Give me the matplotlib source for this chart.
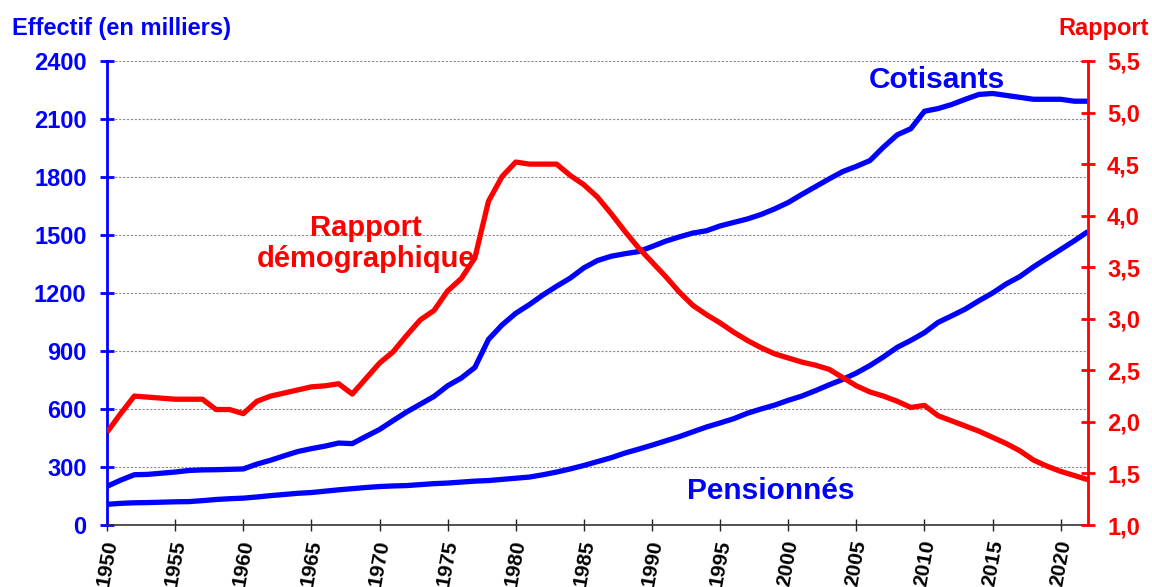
import matplotlib
matplotlib.use("Agg")
import matplotlib.pyplot as plt
from matplotlib.ticker import FuncFormatter

plt.rcParams['font.family'] = ['Liberation Sans', 'DejaVu Sans']
plt.rcParams['font.weight'] = 'bold'

years = list(range(1950, 2023))

cotisants = [
    200, 232, 260, 262, 268, 274, 282, 285, 286, 288,
    290, 315, 335, 358, 380, 395, 408, 424, 421, 458,
    494, 540, 585, 625, 665, 720, 760, 815, 960, 1035,
    1095, 1140, 1190, 1235, 1277, 1330, 1368, 1390, 1403, 1414,
    1440, 1468, 1490, 1510, 1522, 1547, 1565, 1583, 1606, 1635,
    1668, 1710, 1750, 1790, 1828, 1855, 1885, 1955, 2018, 2050,
    2140, 2154, 2175, 2202, 2227, 2232, 2222, 2212, 2202, 2202,
    2202, 2192, 2192,
]

pensionnes = [
    107, 112, 115, 116, 118, 120, 121, 126, 132, 136,
    139, 145, 152, 158, 164, 168, 175, 182, 188, 194,
    199, 202, 204, 209, 214, 217, 222, 227, 230, 236,
    242, 248, 260, 274, 290, 308, 328, 348, 372, 392,
    413, 435, 457, 482, 507, 528, 550, 578, 600, 620,
    645, 667, 695, 725, 753, 786, 825, 870, 919, 955,
    995, 1048, 1082, 1117, 1160, 1200, 1247, 1285, 1335, 1380,
    1425, 1470, 1518,
]

rapport = [
    1.90, 2.08, 2.25, 2.24, 2.23, 2.22, 2.22, 2.22, 2.12, 2.12,
    2.08, 2.20, 2.25, 2.28, 2.31, 2.34, 2.35, 2.37, 2.27, 2.42,
    2.57, 2.68, 2.84, 2.99, 3.08, 3.27, 3.39, 3.59, 4.14, 4.38,
    4.52, 4.50, 4.50, 4.50, 4.39, 4.30, 4.18, 4.02, 3.85, 3.69,
    3.55, 3.41, 3.26, 3.13, 3.04, 2.96, 2.87, 2.79, 2.72, 2.66,
    2.62, 2.58, 2.55, 2.51, 2.43, 2.35, 2.29, 2.25, 2.20, 2.14,
    2.16, 2.06, 2.01, 1.96, 1.91, 1.85, 1.79, 1.72, 1.63, 1.57,
    1.52, 1.48, 1.44,
]

left_ticks = [0, 300, 600, 900, 1200, 1500, 1800, 2100, 2400]
right_ticks = [1.0, 1.5, 2.0, 2.5, 3.0, 3.5, 4.0, 4.5, 5.0, 5.5]
year_ticks = list(range(1950, 2021, 5))

blue = '#0000FF'
red = '#FF0000'

fig = plt.figure(figsize=(11.52, 5.87), dpi=100)
ax = fig.add_axes([0.0929, 0.1056, 0.8515, 0.7905])
ax2 = ax.twinx()

ax.plot(years, cotisants, color=blue, lw=3.8, solid_capstyle='butt')
ax.plot(years, pensionnes, color=blue, lw=3.8, solid_capstyle='butt')
ax2.plot(years, rapport, color=red, lw=3.8, solid_capstyle='butt')

ax.set_xlim(1950, 2022)
ax.set_ylim(0, 2400)
ax2.set_ylim(1.0, 5.5)

ax.set_yticks(left_ticks)
ax2.set_yticks(right_ticks)
ax.set_xticks(year_ticks)
ax2.yaxis.set_major_formatter(FuncFormatter(lambda v, p: f"{v:.1f}".replace('.', ',')))

ax.grid(axis='y', color='#8c8c8c', ls=(0, (2, 1.5)), lw=0.8)
ax.set_axisbelow(True)

for a in (ax, ax2):
    a.spines['top'].set_visible(False)
ax.spines['right'].set_visible(False)
ax2.spines['left'].set_visible(False)
ax2.spines['bottom'].set_visible(False)
ax.spines['left'].set_color(blue)
ax.spines['left'].set_linewidth(2)
ax2.spines['right'].set_color(red)
ax2.spines['right'].set_linewidth(2)
ax.spines['bottom'].set_color('#333333')
ax.spines['bottom'].set_linewidth(1.2)

ax.tick_params(axis='y', direction='inout', length=9.5, width=2, color=blue,
               labelcolor=blue, labelsize=17, pad=10)
ax2.tick_params(axis='y', direction='inout', length=9.5, width=2, color=red,
                labelcolor=red, labelsize=17, pad=9)
ax.tick_params(axis='x', direction='inout', length=8, width=1, color='#222222',
               labelcolor='black', labelsize=15, pad=6)
for lab in ax.get_xticklabels():
    lab.set_rotation(80)
    lab.set_fontweight('bold')
for lab in ax.get_yticklabels() + ax2.get_yticklabels():
    lab.set_fontweight('bold')

fig.text(0.01, 0.952, "Effectif (en milliers)", color=blue, fontsize=17,
         fontweight='bold', ha='left', va='center')
fig.text(0.997, 0.952, "Rapport", color=red, fontsize=17,
         fontweight='bold', ha='right', va='center')

ax.text(2010.9, 2302, "Cotisants", color=blue, fontsize=21.5, fontweight='bold',
        ha='center', va='center')
ax.text(1998.7, 176, "Pensionnés", color=blue, fontsize=21.5, fontweight='bold',
        ha='center', va='center')
ax2.text(1969.0, 3.73, "Rapport\ndémographique", color=red, fontsize=21,
         fontweight='bold', ha='center', va='center', linespacing=1.1)

fig.savefig("out.png", dpi=100)
